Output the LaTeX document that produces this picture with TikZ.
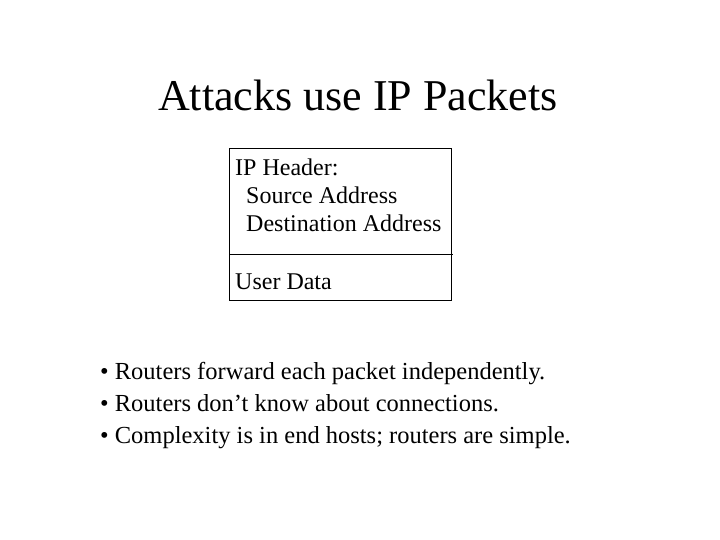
\documentclass[tikz,border=0pt]{standalone}
\usepackage{fontspec}
\setmainfont{Liberation Serif}
\begin{document}
\begin{tikzpicture}[x=1pt,y=1pt,
  txt/.style={anchor=base west,inner sep=0pt,font=\fontsize{24}{28}\selectfont},
  btxt/.style={anchor=base west,inner sep=0pt,font=\fontsize{24.5}{28}\selectfont}]
\useasboundingbox (0,0) rectangle (720,540);
\node[anchor=base,inner sep=0pt,font=\fontsize{44}{48}\selectfont] (title) at (358,429) {Attacks use IP Packets};
\node[draw,line width=0.8pt,minimum width=222pt,minimum height=152pt,anchor=north west,inner sep=0pt] (box) at (229,392) {};
\draw[line width=0.8pt] (229,286) coordinate (dl) -- (453,286) coordinate (dr);
\node[txt] (h1) at (235,364) {IP Header:};
\node[txt] (h2) at (246,336) {Source Address};
\node[txt] (h3) at (246,308) {Destination Address};
\node[txt] (ud) at (235,250) {User Data};
\node[btxt] (b1) at (100,160) {• Routers forward each packet independently.};
\node[btxt] (b2) at (100,128) {• Routers don’t know about connections.};
\node[btxt] (b3) at (100,96) {• Complexity is in end hosts; routers are simple.};
\end{tikzpicture}
\end{document}
